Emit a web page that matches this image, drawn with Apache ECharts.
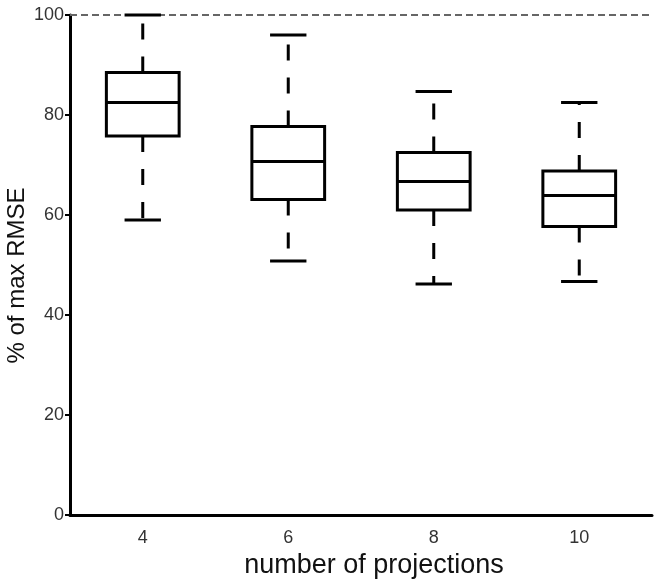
<!DOCTYPE html>
<html>
<head>
<meta charset="utf-8">
<script src="https://cdn.jsdelivr.net/npm/echarts@6/dist/echarts.min.js"></script>
<style>
html,body{margin:0;padding:0;background:#fff;}
#chart{width:658px;height:579px;}
</style>
</head>
<body>
<div id="chart"></div>
<script>
const categories = ['4', '6', '8', '10'];
const lowWhisker = [59.0, 50.8, 46.2, 46.7];
const q1 = [75.8, 63.1, 61.0, 57.7];
const median = [82.5, 70.7, 66.7, 63.9];
const q3 = [88.5, 77.7, 72.5, 68.8];
const highWhisker = [100, 96.0, 84.7, 82.5];
const yTicks = [0, 20, 40, 60, 80, 100];
const referenceLine = 100;

const boxData = categories.map((c, i) => [i, lowWhisker[i], q1[i], median[i], q3[i], highWhisker[i]]);

function renderItem(params, api) {
  const i = api.value(0);
  const pLow = api.coord([i, api.value(1)]);
  const pQ1 = api.coord([i, api.value(2)]);
  const pMed = api.coord([i, api.value(3)]);
  const pQ3 = api.coord([i, api.value(4)]);
  const pHigh = api.coord([i, api.value(5)]);
  const bw = api.size([1, 0])[0] * 0.5;
  const cw = bw * 0.5;
  const x = pMed[0];
  const solid = {stroke: '#000', lineWidth: 3, fill: null};
  const dashed = {stroke: '#000', lineWidth: 3, lineDash: [16, 17], fill: null};
  return {
    type: 'group',
    children: [
      {type: 'line', shape: {x1: x, y1: pQ3[1], x2: x, y2: pHigh[1]}, style: dashed},
      {type: 'line', shape: {x1: x, y1: pQ1[1], x2: x, y2: pLow[1]}, style: dashed},
      {type: 'line', shape: {x1: x - cw / 2, y1: pHigh[1], x2: x + cw / 2, y2: pHigh[1]}, style: solid},
      {type: 'line', shape: {x1: x - cw / 2, y1: pLow[1], x2: x + cw / 2, y2: pLow[1]}, style: solid},
      {type: 'rect', shape: {x: x - bw / 2, y: pQ3[1], width: bw, height: pQ1[1] - pQ3[1]}, style: {stroke: '#000', lineWidth: 3, fill: '#fff'}},
      {type: 'line', shape: {x1: x - bw / 2, y1: pMed[1], x2: x + bw / 2, y2: pMed[1]}, style: solid}
    ]
  };
}

const chart = echarts.init(document.getElementById('chart'), null, {renderer: 'canvas'});
chart.setOption({
  animation: false,
  backgroundColor: '#fff',
  textStyle: {fontFamily: 'Liberation Sans, Arial, sans-serif'},
  grid: {left: 70, right: 6, top: 15, bottom: 64, containLabel: false, outerBoundsMode: 'none'},
  xAxis: {
    type: 'category',
    data: categories,
    boundaryGap: true,
    axisLine: {lineStyle: {color: '#000', width: 3}},
    axisTick: {show: false},
    axisLabel: {fontSize: 18, color: '#333', margin: 14},
    name: 'number of projections',
    nameLocation: 'middle',
    nameGap: 29,
    nameTextStyle: {fontSize: 27, color: '#111', padding: [0, 0, 0, 26]}
  },
  yAxis: {
    type: 'value',
    min: yTicks[0],
    max: yTicks[yTicks.length - 1],
    interval: yTicks[1] - yTicks[0],
    axisLine: {show: true, lineStyle: {color: '#000', width: 3}},
    axisTick: {show: true, length: 5, lineStyle: {color: '#000', width: 2}},
    axisLabel: {fontSize: 18, color: '#333', margin: 6},
    splitLine: {show: false},
    name: '% of max RMSE',
    nameLocation: 'middle',
    nameRotate: 90,
    nameGap: 41,
    nameMoveOverlap: false,
    nameTextStyle: {fontSize: 24, color: '#111', padding: [0, 21, 0, 0]}
  },
  series: [{
    type: 'custom',
    renderItem: renderItem,
    data: boxData,
    encode: {x: 0, y: [1, 2, 3, 4, 5]},
    z: 3,
    markLine: {
      silent: true,
      symbol: 'none',
      label: {show: false},
      lineStyle: {color: '#666', width: 2, type: [7, 4]},
      data: [{yAxis: referenceLine}],
      z: 2
    }
  }]
});
</script>
</body>
</html>
